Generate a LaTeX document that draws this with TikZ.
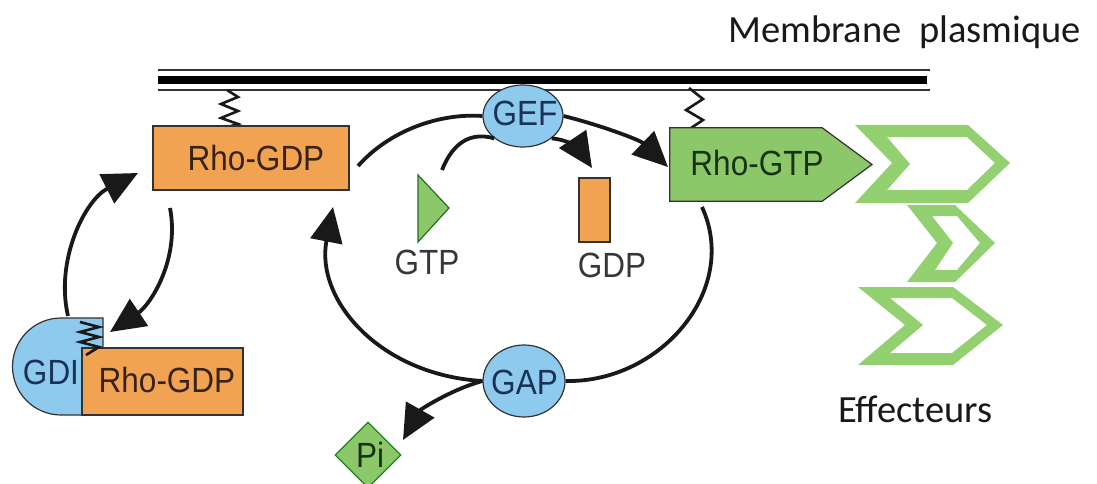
\documentclass[tikz,border=0pt]{standalone}
\usepackage{fontspec}
\setmainfont{Liberation Sans}
\newfontfamily\labfont[FakeStretch=0.9]{Liberation Sans}
\newfontfamily\calfont{Carlito}
\usetikzlibrary{shapes.geometric,arrows.meta}
\definecolor{orangefill}{RGB}{242,163,82}
\definecolor{greenfill}{RGB}{140,200,105}
\definecolor{bluefill}{RGB}{142,202,238}
\definecolor{effgreen}{RGB}{146,208,112}
\definecolor{darkblue}{RGB}{25,50,85}
\definecolor{txtbrown}{RGB}{55,35,20}
\definecolor{txtgreen}{RGB}{25,50,20}
\definecolor{txtgray}{RGB}{55,55,55}
\definecolor{edge}{RGB}{50,50,50}
\begin{document}
\begin{tikzpicture}[x=1pt,y=-1pt,
  lab/.style={font=\labfont\fontsize{35}{40}\selectfont, inner sep=0pt},
  cal/.style={font=\calfont\fontsize{38.5}{44}\selectfont, inner sep=0pt, text=black!90},
  rect/.style={draw=edge, line width=1.2pt, inner sep=0pt},
  oval/.style={ellipse, draw=edge, line width=1.2pt, fill=bluefill, inner sep=0pt},
  conn/.style={line width=3.8pt, black!90},
  arr/.style={conn, -{Triangle[length=35pt,width=32pt]}},
  spring/.style={line width=2.6pt, black!90, line join=miter},
  eff/.style={fill=effgreen, even odd rule}]
\useasboundingbox (0,0) rectangle (1097,484);

% membrane
\draw[line width=2pt, black!80] (158,70) -- (930,70);
\draw[line width=8pt, black] (158,80) -- (927,80);
\draw[line width=2pt, black!80] (158,90) -- (930,90);
\node[cal, anchor=base west] (memb) at (728,43) {Membrane\hspace{9pt} plasmique};

% springs
\draw[spring] (227,90) -- (238,97) -- (221,104) -- (238,111) -- (221,118) -- (238,124) -- (224,128);
\draw[spring] (689,88) -- (703,99) -- (686,110) -- (703,120) -- (688,130) -- (699,136);

% Rho-GDP top
\node[rect, fill=orangefill, minimum width=196pt, minimum height=64pt] (rgdp1) at (251,158) {};
\node[lab, text=txtbrown] (rgdp1t) at (256,158) {Rho-GDP};

% GDI + Rho-GDP bottom
\fill[bluefill] (103,348) -- (103,318) -- (61,318) arc[start angle=270, end angle=90, radius=48.5] -- (82,415) -- (82,348) -- cycle;
\draw[edge, line width=1.2pt] (103,348) -- (103,318) -- (61,318) arc[start angle=270, end angle=90, radius=48.5] -- (82,415);
\node[rect, fill=orangefill, minimum width=161pt, minimum height=67pt] (rgdp2) at (162.5,381.5) {};
\node[lab, text=txtbrown] (rgdp2t) at (167,380) {Rho-GDP};
\node[lab, text=darkblue] (gdi) at (51,372) {GDI};
\draw[spring] (80,322) -- (99,327) -- (80,332) -- (99,337) -- (80,342) -- (99,347) -- (86,355);

% GEF, GAP
\node[oval, minimum width=80pt, minimum height=62pt] (gef) at (523,116) {};
\node[lab, text=darkblue] (geft) at (525,113) {GEF};
\node[oval, minimum width=82pt, minimum height=72pt] (gap) at (524,381) {};
\node[lab, text=darkblue] (gapt) at (524.5,382) {GAP};

% Rho-GTP
\node[inner sep=0pt, minimum width=152pt, minimum height=73pt] (rgtp) at (746,164.5) {};
\draw[draw=edge, line width=1.2pt, fill=greenfill] (rgtp.north west) -- (rgtp.north east) -- (872,164.5) -- (rgtp.south east) -- (rgtp.south west) -- cycle;
\node[lab, text=txtgreen] (rgtpt) at (757,163) {Rho-GTP};

% GTP, GDP
\draw[draw=edge!70!green, line width=1.2pt, fill=greenfill] (418,175) -- (449,208) -- (418,242) -- cycle;
\node[lab, text=txtgray] (gtpt) at (427,262) {GTP};
\node[rect, fill=orangefill, minimum width=31pt, minimum height=64pt] (gdp) at (594.5,210) {};
\node[lab, text=txtgray] (gdpt) at (612,265) {GDP};

% Pi
\node[diamond, draw=edge!60!green, line width=1.2pt, fill=greenfill, minimum width=66pt, minimum height=66pt, inner sep=0pt] (pi) at (368,455) {};
\node[lab, text=txtgreen] (pit) at (370,455) {Pi};

% effectors
\fill[eff] (855,125) -- (968,125) -- (1010,163) -- (968,203) -- (855,203) -- (892,163) -- cycle
           (887,137) -- (967,137) -- (995,163) -- (967,190) -- (887,190) -- (910,164) -- cycle;
\fill[eff] (907,205) -- (955,205) -- (995,243) -- (955,282) -- (907,282) -- (937,243) -- cycle
           (932,216) -- (957,216) -- (980,243) -- (957,270) -- (935,270) -- (953,243) -- cycle;
\fill[eff] (858,287) -- (953,287) -- (1003,325) -- (953,365) -- (858,365) -- (905,325) -- cycle
           (890,298) -- (952,298) -- (987,325) -- (952,353) -- (890,353) -- (923,325) -- cycle;
\node[cal, anchor=base west] (effl) at (838,422) {Effecteurs};

% connector end points
\coordinate (gditop) at (68,316);
\coordinate (rgdp1in) at (138,173);
\coordinate (rgdp1out) at (170,208);
\coordinate (gdiin) at (110,332);
\coordinate (rgdp1r) at (358,166);
\coordinate (rgdp1br) at (333,207);
\coordinate (gtptop) at (442,170);
\coordinate (gdptop) at (592,168);
\coordinate (rgtpin) at (668,167);
\coordinate (rgtpbot) at (702,207);
\coordinate (piin) at (403,440);

% connectors
\draw[arr] (gditop) .. controls (55,260) and (85,200) .. (rgdp1in);
\draw[arr] (rgdp1out) .. controls (180,260) and (150,305) .. (gdiin);
\draw[conn] (rgdp1r) .. controls (390,130) and (440,113) .. (gef.west);
\draw[conn] (gtptop) .. controls (450,150) and (465,130) .. (gef.south west);
\draw[arr] (gef.south east) .. controls (570,140) and (580,150) .. (gdptop);
\draw[arr] (gef.east) .. controls (600,125) and (640,140) .. (rgtpin);
\draw[conn] (rgtpbot) .. controls (740,290) and (660,383) .. (gap.east);
\draw[arr] (gap.west) .. controls (380,375) and (315,300) .. (rgdp1br);
\draw[arr] (gap.west) .. controls (450,390) and (420,410) .. (piin);
\end{tikzpicture}
\end{document}
